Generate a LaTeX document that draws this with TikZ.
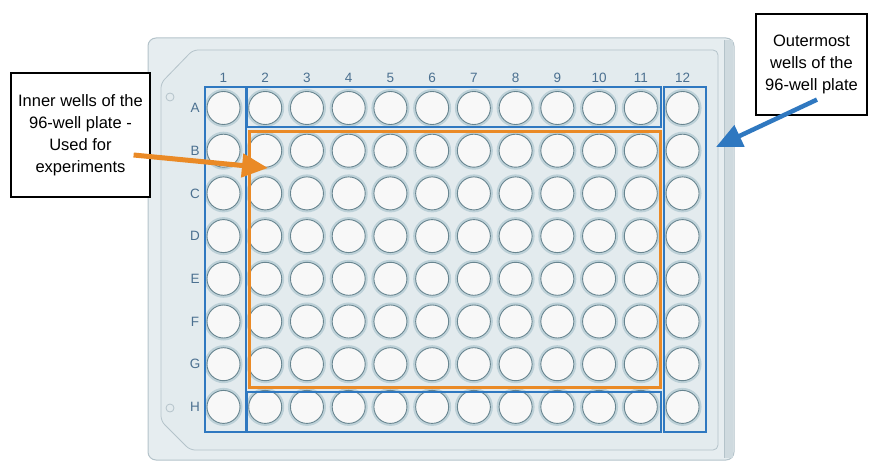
\documentclass[tikz,border=0pt]{standalone}
\usepackage{fontspec}
\setmainfont{Liberation Sans}
\usepackage{xcolor}
\usetikzlibrary{arrows.meta}

\definecolor{platefill}{HTML}{E6EDF0}
\definecolor{plateedge}{HTML}{B4C3CA}
\definecolor{plateside}{HTML}{CFDADF}
\definecolor{framefill}{HTML}{E3EBEE}
\definecolor{wellfill}{HTML}{F8F8F8}
\definecolor{welledge}{HTML}{688590}
\definecolor{wellhalo}{HTML}{BDD1D8}
\definecolor{labelcol}{HTML}{4B7090}
\definecolor{boxblue}{HTML}{2F78C0}
\definecolor{boxorange}{HTML}{EA8A26}

\begin{document}
\begin{tikzpicture}[x=1pt,y=-1pt]
\tikzstyle{plate} = [draw=plateedge, fill=platefill, line width=1pt, rounded corners=8pt]
\tikzstyle{frame} = [draw=plateedge, fill=framefill, line width=0.8pt, rounded corners=5pt]
\tikzstyle{hole} = [draw=plateedge, line width=0.8pt, fill=framefill]
\tikzstyle{well} = [circle, minimum size=33pt, inner sep=0pt, draw=welledge, line width=0.9pt, fill=wellfill, preaction={draw=wellhalo, line width=5pt}]
\tikzstyle{lbl} = [text=labelcol, font=\fontsize{13.5}{14}\selectfont, inner sep=0pt]
\tikzstyle{group} = [draw=boxblue, line width=2.8pt]
\tikzstyle{innergroup} = [draw=boxorange, line width=3pt]
\tikzstyle{callout} = [rectangle, draw=black, line width=1.2pt, fill=white, align=center, font=\fontsize{16.5}{22}\selectfont]
\tikzstyle{arrow} = [line width=5pt, -{Triangle[length=26pt,width=23pt]}]

\useasboundingbox (0,0) rectangle (869,462);

% plate body
\draw[plate] (148,38) rectangle (734,460);
\fill[plateside] (724,40) rectangle (733,458);
\draw[plateedge, line width=0.8pt] (724,40) -- (724,458);
\draw[frame] (193,50) -- (718,50) -- (718,450) -- (190,450) -- (161,421) -- (161,83) -- cycle;
\draw[hole] (170,97) circle (4pt);
\draw[hole] (170,408) circle (4pt);

% wells with row and column labels
\foreach \c in {1,...,12} {
  \node (col-\c) [lbl] at ({223.5+41.73*(\c-1)},78) {\c};
}
\foreach \row [count=\r] in {A,B,C,D,E,F,G,H} {
  \node (row-\row) [lbl] at (195,{108+42.7*(\r-1)}) {\row};
  \foreach \c in {1,...,12} {
    \node (well-\row-\c) [well] at ({223.5+41.73*(\c-1)},{108+42.7*(\r-1)}) {};
  }
}

% groups of wells
\draw[group] (205,87) rectangle (246,432);
\draw[group] (247,87) rectangle (661,127);
\draw[group] (247,392) rectangle (661,432);
\draw[group] (664,87) rectangle (706,432);
\draw[innergroup] (249,132) rectangle (660,387);

% callouts
\node (inner) [callout, minimum width=139pt, minimum height=124pt] at (80.5,135) {Inner wells of the\\96-well plate -\\Used for\\experiments};
\node (outer) [callout, minimum width=111pt, minimum height=101pt] at (811.5,64.5) {Outermost\\wells of the\\96-well plate};

\coordinate (innertip) at (268,168);
\coordinate (outertip) at (716,147);
\draw [arrow, boxorange] ([xshift=-17pt,yshift=-20pt]inner.east) -- (innertip);
\draw [arrow, boxblue, line width=4.5pt] ([xshift=5.5pt,yshift=16pt]outer.south) -- (outertip);
\end{tikzpicture}
\end{document}
